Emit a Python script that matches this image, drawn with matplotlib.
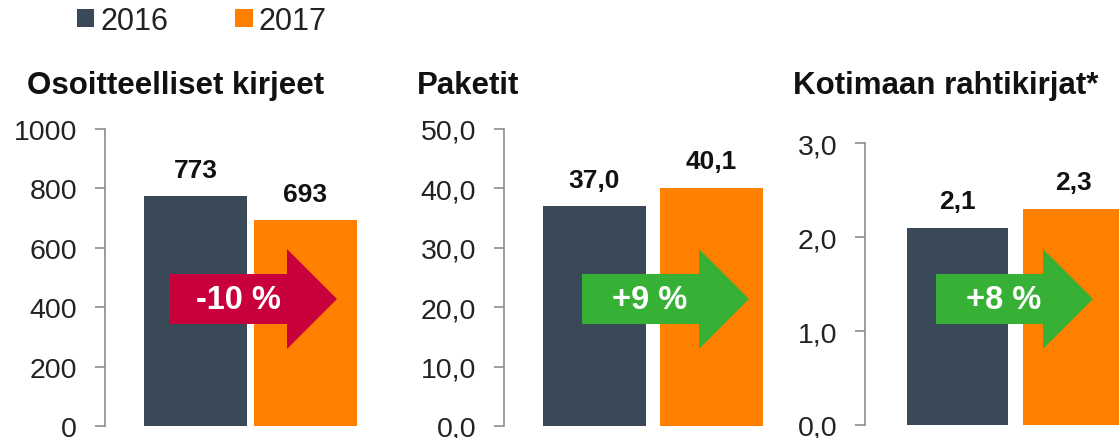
import matplotlib
matplotlib.use('Agg')
import matplotlib.pyplot as plt
from matplotlib.patches import Patch, Polygon

plt.rcParams['font.family'] = ['Liberation Sans', 'DejaVu Sans']

years = ['2016', '2017']
year_colors = ['#394957', '#FF8000']
titles = ['Osoitteelliset kirjeet', 'Paketit', 'Kotimaan rahtikirjat*']
values = [[773, 693], [37.0, 40.1], [2.1, 2.3]]
value_labels = [['773', '693'], ['37,0', '40,1'], ['2,1', '2,3']]
yticks = [[0, 200, 400, 600, 800, 1000], [0, 10, 20, 30, 40, 50], [0, 1, 2, 3]]
ytick_labels = [['0', '200', '400', '600', '800', '1000'],
                ['0,0', '10,0', '20,0', '30,0', '40,0', '50,0'],
                ['0,0', '1,0', '2,0', '3,0']]
changes = ['-10 %', '+9 %', '+8 %']
change_colors = ['#C8003C', '#36B136']

W, H = 1119, 439
fig = plt.figure(figsize=(W / 100, H / 100), dpi=100)

# layout in pixels (from top-left): spine x, right edge, top, bottom, bar centres, bar width
panels = [
    dict(left=105, right=380, top=130, bottom=427, c=(195.5, 305.5), w=103, arrow=(170, 337)),
    dict(left=504, right=780, top=130, bottom=427, c=(594.5, 711.5), w=103, arrow=(582, 749)),
    dict(left=865, right=1119, top=144, bottom=426, c=(957.5, 1073.5), w=101, arrow=(936, 1093)),
]
title_x = [27, 417, 793]


def px(x, y):
    return x / W, 1 - y / H


def draw_arrow(x0, x1, text, color):
    yc, body, head, hl = 300, 25, 50, 50
    pts = [(x0, yc - body), (x1 - hl, yc - body), (x1 - hl, yc - head), (x1, yc),
           (x1 - hl, yc + head), (x1 - hl, yc + body), (x0, yc + body)]
    poly = Polygon([px(*p) for p in pts], closed=True, transform=fig.transFigure,
                   facecolor=color, edgecolor='none', zorder=5)
    fig.add_artist(poly)
    fig.text(*px(x0 + 68, yc + 1), text, color='white', fontsize=23.5, fontweight='bold',
             ha='center', va='center', zorder=6)


for i, p in enumerate(panels):
    l, b = px(p['left'], p['bottom'])
    r, t = px(p['right'], p['top'])
    ax = fig.add_axes([l, b, r - l, t - b])
    c0, c1 = p['c']
    d = c1 - c0
    ax.bar([0, 1], values[i], width=p['w'] / d, color=year_colors, zorder=2)
    ax.set_xlim((p['left'] - c0) / d, (p['right'] - c0) / d)
    ax.set_ylim(yticks[i][0], yticks[i][-1])
    ax.set_yticks(yticks[i])
    ax.set_yticklabels(ytick_labels[i])
    ax.set_xticks([])
    for s in ['top', 'right', 'bottom']:
        ax.spines[s].set_visible(False)
    ax.spines['left'].set_color('#8C8C8C')
    ax.spines['left'].set_linewidth(1.2)
    ax.tick_params(axis='y', length=7, width=1.2, color='#8C8C8C', pad=13,
                   labelsize=20.5, labelcolor='#222222')
    for j in range(2):
        ax.annotate(value_labels[i][j], (j, values[i][j]), xytext=(0, 14),
                    textcoords='offset points', ha='center', va='baseline',
                    fontsize=19, fontweight='bold', color='#111111')
    for lab in ax.get_yticklabels():
        lab.set_clip_on(False)
    col = change_colors[0] if changes[i].startswith('-') else change_colors[1]
    draw_arrow(p['arrow'][0], p['arrow'][1], changes[i], col)
    fig.text(*px(title_x[i], 94), titles[i], fontsize=22.5, fontweight='bold',
             va='baseline', ha='left', color='#111111')

handles = [Patch(facecolor=c, edgecolor='none') for c in year_colors]
fig.legend(handles, years, loc='upper left', bbox_to_anchor=px(77, 7), frameon=False,
           ncol=2, fontsize=22, handlelength=0.56, handleheight=0.5, handletextpad=0.2,
           columnspacing=2.2, borderpad=0, borderaxespad=0, labelcolor='#222222')

fig.savefig('out.png', dpi=100)
